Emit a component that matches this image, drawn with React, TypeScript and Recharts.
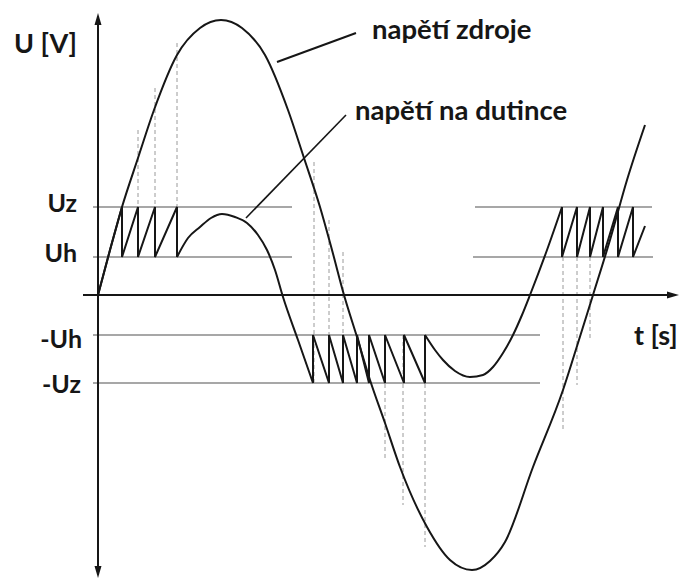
import React from 'react';
import { ComposedChart, Line, XAxis, YAxis, ReferenceLine, ReferenceDot } from 'recharts';

// Levels
const levelUz = 88;
const levelUh = 38;
const levelNegUh = -40;
const levelNegUz = -88;

// Source voltage (napětí zdroje)
const sourceT = [98, 110, 122, 138, 154, 177, 200, 221, 242, 265, 288, 304, 320, 332, 344, 357, 370, 385, 400, 427, 450, 472, 490, 505, 533, 563, 578, 593, 610, 627, 645];
const sourceU = [0, 45, 88, 137, 185, 240, 267, 275, 267, 240, 185, 137, 88, 45, 0, -42, -85, -128, -172, -232, -265, -275, -266, -247, -172, -95, -48, 0, 55, 115, 170];

// Tube voltage (napětí na dutince) - segments
const tubeRiseT = [98, 110, 122, 122, 138, 138, 155, 155, 177, 177];
const tubeRiseU = [0, 45, 88, 38, 88, 38, 88, 38, 88, 38];

const tubeHump1T = [177, 188, 200, 211, 222, 235, 247, 258, 267, 275, 283, 298, 313];
const tubeHump1U = [38, 57, 68, 77, 81, 78, 72, 60, 45, 25, -2, -45, -88];

const tubeNegT = [313, 313, 329, 329, 343, 343, 357, 357, 369, 369, 385, 385, 404, 404, 425, 425];
const tubeNegU = [-88, -40, -88, -40, -88, -40, -88, -40, -88, -40, -88, -40, -88, -40, -88, -40];

const tubeHump2T = [425, 435, 443, 455, 470, 483, 493, 503, 513, 522, 530, 547, 562];
const tubeHump2U = [-40, -55, -65, -76, -82, -80, -72, -58, -40, -20, 0, 45, 88];

const tubePosT = [562, 562, 577, 577, 590, 590, 603, 603, 618, 618, 633, 633, 645];
const tubePosU = [88, 38, 88, 38, 88, 38, 88, 38, 88, 38, 88, 38, 69];

// Dashed helper verticals: t, from U, to U
const dashT = [138, 155, 177, 314, 329, 343, 385, 403, 425, 563, 577, 590];
const dashFrom = [165, 207, 252, 133, 75, 43, -40, -40, -40, 38, 38, 38];
const dashTo = [38, 38, 38, -88, -88, -88, -165, -210, -252, -135, -90, -45];

const zip = (ts: number[], us: number[]) => ts.map((t, i) => ({ x: t, y: us[i] }));

const sourceData = zip(sourceT, sourceU);
const riseData = zip(tubeRiseT, tubeRiseU);
const hump1Data = zip(tubeHump1T, tubeHump1U);
const negData = zip(tubeNegT, tubeNegU);
const hump2Data = zip(tubeHump2T, tubeHump2U);
const posData = zip(tubePosT, tubePosU);

const INK = '#161616';
const GUIDE = '#8a8a8a';
const FONT = 'Lato, "Open Sans", sans-serif';

const ArrowAxis = (p: any) => {
  const { x1, y1, x2, y2 } = p;
  const dx = x2 - x1;
  const dy = y2 - y1;
  const len = Math.hypot(dx, dy) || 1;
  const ux = dx / len;
  const uy = dy / len;
  const L = 12;
  const Wd = 3.5;
  const bx = x2 - ux * L;
  const by = y2 - uy * L;
  const pts = `${x2},${y2} ${bx - uy * Wd},${by + ux * Wd} ${bx + uy * Wd},${by - ux * Wd}`;
  return (
    <g>
      <line x1={x1} y1={y1} x2={bx + ux * 2} y2={by + uy * 2} stroke={INK} strokeWidth={2} />
      <polygon points={pts} fill={INK} />
    </g>
  );
};

const makeText = (label: string, size: number, anchor: string) => (p: any) => (
  <text
    x={p.cx}
    y={p.cy}
    textAnchor={anchor}
    fontFamily={FONT}
    fontWeight={700}
    fontSize={size}
    fill={INK}
  >
    {label}
  </text>
);

const labels = [
  { t: 14, u: 242, text: 'U [V]', size: 27, anchor: 'start' },
  { t: 77, u: 83, text: 'Uz', size: 25, anchor: 'end' },
  { t: 77, u: 33, text: 'Uh', size: 25, anchor: 'end' },
  { t: 82, u: -53, text: '-Uh', size: 25, anchor: 'end' },
  { t: 81, u: -98, text: '-Uz', size: 25, anchor: 'end' },
  { t: 634, u: -50, text: 't [s]', size: 27, anchor: 'start' },
  { t: 372, u: 256, text: 'napětí zdroje', size: 27.5, anchor: 'start' },
  { t: 355, u: 175, text: 'napětí na dutince', size: 27.5, anchor: 'start' },
];

const lineProps = {
  dataKey: 'y',
  stroke: INK,
  strokeWidth: 2,
  dot: false,
  activeDot: false,
  isAnimationActive: false,
  legendType: 'none' as const,
};

export default function App() {
  return (
    <div style={{ position: 'absolute', left: 0, top: 0, background: '#fff' }}>
      <ComposedChart width={682} height={581} margin={{ top: 0, right: 0, bottom: 0, left: 0 }}>
        <XAxis type="number" dataKey="x" domain={[0, 682]} hide allowDataOverflow />
        <YAxis type="number" domain={[-286, 295]} hide allowDataOverflow />

        {/* guide level lines */}
        <ReferenceLine segment={[{ x: 93, y: levelUz }, { x: 292, y: levelUz }]} stroke={GUIDE} strokeWidth={1.3} />
        <ReferenceLine segment={[{ x: 93, y: levelUh }, { x: 292, y: levelUh }]} stroke={GUIDE} strokeWidth={1.3} />
        <ReferenceLine segment={[{ x: 475, y: levelUz }, { x: 652, y: levelUz }]} stroke={GUIDE} strokeWidth={1.3} />
        <ReferenceLine segment={[{ x: 473, y: levelUh }, { x: 653, y: levelUh }]} stroke={GUIDE} strokeWidth={1.3} />
        <ReferenceLine segment={[{ x: 93, y: levelNegUh }, { x: 540, y: levelNegUh }]} stroke={GUIDE} strokeWidth={1.3} />
        <ReferenceLine segment={[{ x: 93, y: levelNegUz }, { x: 540, y: levelNegUz }]} stroke={GUIDE} strokeWidth={1.3} />

        {/* dashed helper lines */}
        {dashT.map((t, i) => (
          <ReferenceLine
            key={'d' + i}
            segment={[{ x: t, y: dashFrom[i] }, { x: t, y: dashTo[i] }]}
            stroke="#9a9a9a"
            strokeWidth={1}
            strokeDasharray="4 3"
          />
        ))}

        {/* axes */}
        <ReferenceLine segment={[{ x: 83, y: 0 }, { x: 679, y: 0 }]} shape={ArrowAxis} />
        <ReferenceLine segment={[{ x: 98, y: 0 }, { x: 98, y: 282 }]} shape={ArrowAxis} />
        <ReferenceLine segment={[{ x: 98, y: 0 }, { x: 98, y: -283 }]} shape={ArrowAxis} />

        {/* pointer lines */}
        <ReferenceLine segment={[{ x: 356, y: 262 }, { x: 277, y: 233 }]} stroke={INK} strokeWidth={2} />
        <ReferenceLine segment={[{ x: 346, y: 180 }, { x: 246, y: 77 }]} stroke={INK} strokeWidth={1.6} />

        {/* curves */}
        <Line {...lineProps} data={sourceData} type="monotone" />
        <Line {...lineProps} data={riseData} type="linear" />
        <Line {...lineProps} data={hump1Data} type="monotone" />
        <Line {...lineProps} data={negData} type="linear" />
        <Line {...lineProps} data={hump2Data} type="monotone" />
        <Line {...lineProps} data={posData} type="linear" />

        {labels.map((l, i) => (
          <ReferenceDot
            key={'l' + i}
            x={l.t}
            y={l.u}
            r={1}
            shape={makeText(l.text, l.size, l.anchor)}
          />
        ))}
      </ComposedChart>
    </div>
  );
}
